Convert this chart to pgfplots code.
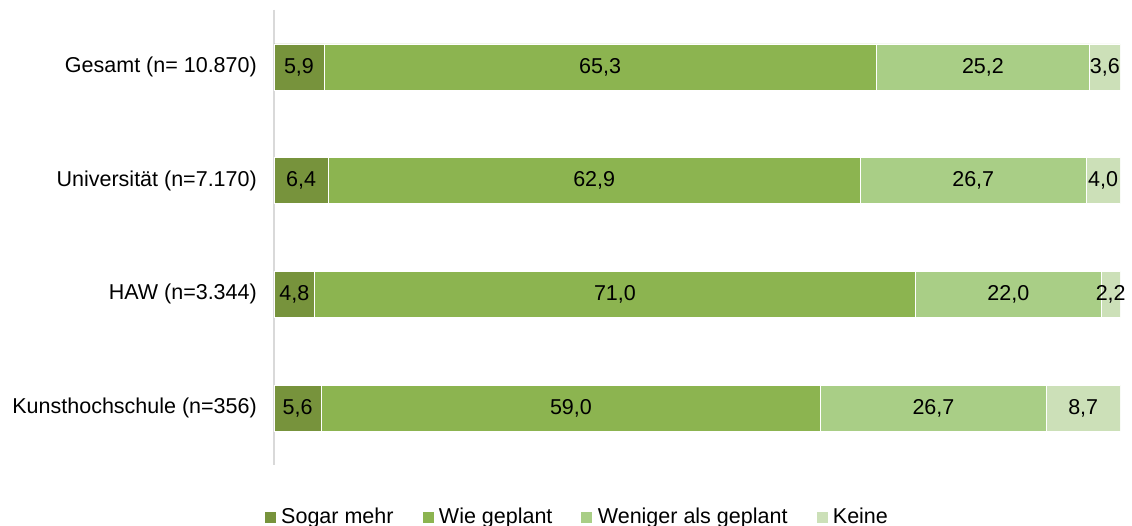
\documentclass[border=0pt]{standalone}
\usepackage{fontspec}
\setmainfont{Liberation Sans}
\usepackage{pgfplots}
\usepackage{pgfplotstable}
\pgfplotsset{compat=1.18}
\definecolor{c1}{HTML}{77933C}
\definecolor{c2}{HTML}{8CB450}
\definecolor{c3}{HTML}{A9CE86}
\definecolor{c4}{HTML}{CCE0B8}
\pgfplotstableread{
cat a b c d
0 5.9 65.3 25.2 3.6
1 6.4 62.9 26.7 4.0
2 4.8 71.0 22.0 2.2
3 5.6 59.0 26.7 8.7
}\data
\newcommand{\fs}{\fontsize{21.5}{25}\selectfont}
\pgfplotsset{
  base/.style={
    at={(274pt,61pt)}, anchor=south west,
    scale only axis, width=846pt, height=455pt,
    xmin=0, xmax=100, ymin=-0.5, ymax=3.5, y dir=reverse},
  lab/.style={draw=none, mark=none, forget plot,
    visualization depends on={\thisrow{#1} \as \val},
    nodes near coords={\pgfmathprintnumber[fixed,fixed zerofill,precision=1,use comma,assume math mode=true]{\val}},
    every node near coord/.append style={anchor=center, font=\fs, text=black, inner sep=0pt}},
}
\begin{document}
\begin{tikzpicture}
\useasboundingbox (0,0) rectangle (1132pt,526pt);
\begin{axis}[base,
  xbar stacked, bar width=46pt,
  axis x line=none, axis y line*=left,
  y axis line style={draw=black!15, line width=1.5pt, -},
  xtick=\empty,
  ytick={0,1,2,3},
  yticklabels={Gesamt (n= 10.870), Universität (n=7.170), HAW (n=3.344), Kunsthochschule (n=356)},
  major tick length=0pt,
  yticklabel style={font=\fs, inner xsep=0pt, xshift=-17pt},
  legend style={at={(axis description cs:0.358,-0.114)}, anchor=center, draw=none, fill=none,
    legend columns=-1, font=\fs,
    /tikz/every even column/.append style={column sep=26pt},
    /tikz/every odd column/.append style={column sep=3pt}},
  legend image code/.code={\fill[#1] (0pt,-6pt) rectangle (12pt,6pt);},
  legend cell align=left,
]
\addplot[fill=c1, draw=white, line width=0.4pt] table[x=a,y=cat]{\data};
\addplot[fill=c2, draw=white, line width=0.4pt] table[x=b,y=cat]{\data};
\addplot[fill=c3, draw=white, line width=0.4pt] table[x=c,y=cat]{\data};
\addplot[fill=c4, draw=white, line width=0.4pt] table[x=d,y=cat]{\data};
\legend{Sogar mehr, Wie geplant, Weniger als geplant, Keine}
\end{axis}
\begin{axis}[base, axis lines=none, xtick=\empty, ytick=\empty, clip=false]
\addplot[lab=a] table[x expr=\thisrow{a}/2, y=cat]{\data};
\addplot[lab=b] table[x expr=\thisrow{a}+\thisrow{b}/2, y=cat]{\data};
\addplot[lab=c] table[x expr=\thisrow{a}+\thisrow{b}+\thisrow{c}/2, y=cat]{\data};
\addplot[lab=d] table[x expr=\thisrow{a}+\thisrow{b}+\thisrow{c}+\thisrow{d}/2, y=cat]{\data};
\end{axis}
\end{tikzpicture}
\end{document}
